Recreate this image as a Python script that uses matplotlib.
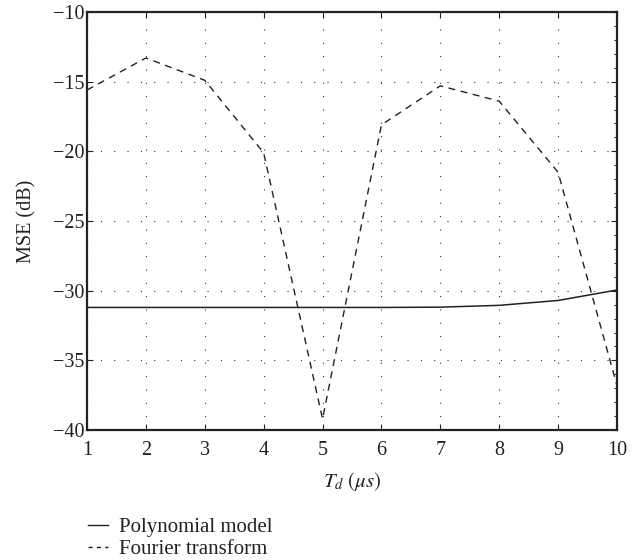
import matplotlib
matplotlib.use("Agg")
import matplotlib.pyplot as plt
from matplotlib.lines import Line2D

plt.rcParams['font.family'] = ['Liberation Serif', 'DejaVu Serif']
plt.rcParams['mathtext.fontset'] = 'stix'
plt.rcParams['axes.unicode_minus'] = True

td = [1, 2, 3, 4, 5, 6, 7, 8, 9, 10]
poly_mse = [-31.2, -31.2, -31.2, -31.2, -31.2, -31.2, -31.18, -31.05, -30.7, -29.95]
fourier_mse = [-15.6, -13.3, -14.9, -20.1, -39.2, -18.1, -15.3, -16.4, -21.5, -36.8]
xticks = [1, 2, 3, 4, 5, 6, 7, 8, 9, 10]
yticks = [-40, -35, -30, -25, -20, -15, -10]

fig = plt.figure(figsize=(6.38, 5.60), dpi=100)
ax = fig.add_axes([0.1364, 0.232, 0.967 - 0.1364, 0.9786 - 0.232])

ax.plot(td, poly_mse, color='#222222', lw=1.1, linestyle='-')
ax.plot(td, fourier_mse, color='#222222', lw=1.0, linestyle=(0, (5, 4)))

ax.set_xlim(1, 10)
ax.set_ylim(-40, -10)
ax.set_xticks(xticks)
ax.set_yticks(yticks)
ax.set_xticklabels([str(v) for v in xticks])
ax.set_yticklabels([str(v).replace('-', '\u2212') for v in yticks])
ax.grid(True, color='#333333', linestyle=(0, (1, 11)), lw=0.8)

ax.tick_params(axis='x', direction='in', top=True, length=4, width=0.8,
               labelsize=14.5, colors='#222222', pad=8)
ax.tick_params(axis='y', direction='in', right=True, length=4, width=0.8,
               labelsize=14.5, colors='#222222', pad=2)
ax.set_yticks([v for v in range(-40, -9)], minor=True)
ax.tick_params(which='minor', left=False, right=True, direction='in', length=2, width=0.6)
for s in ax.spines.values():
    s.set_linewidth(1.6)
    s.set_color('#222222')

ax.set_xlabel(r'$T_d\ (\mu s)$', fontsize=15, color='#222222')
ax.xaxis.set_label_coords(0.5, -0.095)
ax.set_ylabel('MSE (dB)', fontsize=14.5, color='#222222')
ax.yaxis.set_label_coords(-0.095, 0.5)

handles = [Line2D([], [], color='#222222', lw=1.0, linestyle='-'),
           Line2D([], [], color='#222222', lw=1.0, linestyle=(0, (3, 3)))]
fig.legend(handles, ['Polynomial model', 'Fourier transform'],
           loc='lower left', bbox_to_anchor=(0.108, -0.032), frameon=False,
           fontsize=15, handlelength=1.0, handletextpad=0.5, labelspacing=0.12,
           labelcolor='#222222')

fig.savefig('out.png', dpi=100)
